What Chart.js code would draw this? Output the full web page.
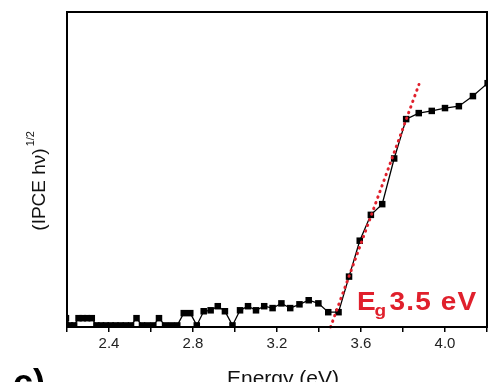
<!DOCTYPE html>
<html>
<head>
<meta charset="utf-8">
<script src="https://cdn.jsdelivr.net/npm/chart.js@4"></script>
<style>
  html, body { margin: 0; padding: 0; background: #fff; }
  #wrap { width: 500px; height: 382px; }
</style>
</head>
<body>
<div id="wrap"><canvas id="ipceChart"></canvas></div>
<script>
// photon energy (eV) of each measured point
const energy = [2.195, 2.214, 2.234, 2.255, 2.275, 2.296, 2.318, 2.340, 2.362, 2.385,
    2.408, 2.431, 2.455, 2.480, 2.505, 2.531, 2.557, 2.583, 2.611, 2.638,
    2.667, 2.696, 2.725, 2.756, 2.787, 2.818, 2.851, 2.884, 2.918, 2.952,
    2.988, 3.024, 3.062, 3.100, 3.139, 3.179, 3.221, 3.263, 3.307, 3.351,
    3.397, 3.444, 3.493, 3.543, 3.594, 3.647, 3.701, 3.758, 3.815, 3.875,
    3.937, 4.000, 4.066, 4.133, 4.203];

// (IPCE hv)^1/2, arbitrary units
const ipce = [0.028, 0.005, 0.005, 0.028, 0.028, 0.028, 0.028, 0.005, 0.005, 0.005,
    0.005, 0.005, 0.005, 0.005, 0.005, 0.028, 0.005, 0.005, 0.005, 0.028,
    0.005, 0.005, 0.005, 0.044, 0.044, 0.005, 0.050, 0.053, 0.066, 0.050,
    0.005, 0.053, 0.066, 0.053, 0.066, 0.060, 0.075, 0.060, 0.072, 0.085,
    0.075, 0.047, 0.047, 0.160, 0.274, 0.356, 0.390, 0.535, 0.660, 0.679,
    0.686, 0.695, 0.701, 0.733, 0.774];

// linear fit of the absorption edge
const fitEnergy = [3.455, 3.876];
const fitValue = [0.0, 0.770];

const xTicks = [2.4, 2.8, 3.2, 3.6, 4.0];

const red = '#e0202c';

// frame, axis titles and band gap label
const annotate = {
    id: 'annotate',
    afterDraw(chart) {
        const { ctx, chartArea: a, scales } = chart;
        ctx.save();
        ctx.strokeStyle = '#000';
        ctx.lineWidth = 2;
        ctx.strokeRect(a.left, a.top, a.right - a.left, a.bottom - a.top);

        // x title
        ctx.fillStyle = '#111';
        ctx.textAlign = 'center';
        ctx.textBaseline = 'alphabetic';
        ctx.font = '21px "Liberation Sans", Arial, sans-serif';
        ctx.fillText('Energy (eV)', (a.left + a.right) / 2 + 6, a.bottom + 58);

        // y title with superscript
        ctx.translate(45, (a.top + a.bottom) / 2 + 14);
        ctx.rotate(-Math.PI / 2);
        ctx.textAlign = 'left';
        ctx.font = '19px "Liberation Sans", Arial, sans-serif';
        const main = '(IPCE h\u03bd)';
        const w = ctx.measureText(main).width;
        ctx.fillText(main, -w / 2 - 6, 0);
        ctx.font = '11px "Liberation Sans", Arial, sans-serif';
        ctx.fillText('1/2', w / 2 - 4, -11);
        ctx.restore();

        // band gap label
        ctx.save();
        const x0 = scales.x.getPixelForValue(3.581);
        const y0 = scales.y.getPixelForValue(0.053);
        ctx.translate(x0, y0);
        ctx.scale(1.12, 1);
        ctx.fillStyle = red;
        ctx.textBaseline = 'alphabetic';
        ctx.textAlign = 'left';
        ctx.font = 'bold 25px "Liberation Sans", Arial, sans-serif';
        ctx.fillText('E', 0, 0);
        let xx = ctx.measureText('E').width - 1;
        ctx.font = 'bold 17px "Liberation Sans", Arial, sans-serif';
        ctx.fillText('g', xx, 6);
        xx += ctx.measureText('g').width + 3;
        ctx.font = 'bold 25px "Liberation Sans", Arial, sans-serif';
        ctx.letterSpacing = '1px';
        ctx.fillText('3.5 eV', xx, 0);
        ctx.restore();

        // panel letter, cut at the bottom
        ctx.save();
        ctx.fillStyle = '#000';
        ctx.font = 'bold 36px "Liberation Sans", Arial, sans-serif';
        ctx.fillText('c)', 13, 395);
        ctx.restore();
    }
};

const ctx = document.getElementById('ipceChart').getContext('2d');
const ipceChart = new Chart(ctx, {
    type: 'line',
    data: {
        datasets: [{
            label: 'fit',
            data: fitEnergy.map((e, i) => ({ x: e, y: fitValue[i] })),
            borderColor: red,
            borderWidth: 3,
            borderDash: [0.5, 5.5],
            borderCapStyle: 'round',
            pointRadius: 0,
            clip: false
        }, {
            label: 'IPCE',
            data: energy.map((e, i) => ({ x: e, y: ipce[i] })),
            borderColor: '#000',
            borderWidth: 1.3,
            backgroundColor: '#000',
            pointStyle: 'rect',
            pointRadius: 4.6,
            pointBorderWidth: 0,
            tension: 0
        }]
    },
    options: {
        responsive: true,
        maintainAspectRatio: false,
        animation: false,
        events: [],
        layout: { padding: { left: 67, right: 13, top: 12, bottom: 26 } },
        plugins: { legend: { display: false }, tooltip: { enabled: false } },
        scales: {
            x: {
                type: 'linear',
                min: 2.2,
                max: 4.2,
                border: { display: false },
                grid: { drawOnChartArea: false, tickLength: 5, color: '#000', lineWidth: 1.5 },
                afterBuildTicks: (axis) => {
                    const t = [];
                    for (let k = 0; k <= 10; k++) t.push({ value: 2.2 + k * 0.2 });
                    axis.ticks = t;
                },
                ticks: {
                    color: '#222',
                    padding: 3,
                    maxRotation: 0,
                    autoSkip: false,
                    font: { family: '"Liberation Sans", Arial, sans-serif', size: 15 },
                    callback: (v) => xTicks.some(t => Math.abs(t - v) < 1e-6) ? v.toFixed(1) : ''
                }
            },
            y: {
                display: false,
                min: 0,
                max: 1
            }
        }
    },
    plugins: [annotate]
});
</script>
</body>
</html>
